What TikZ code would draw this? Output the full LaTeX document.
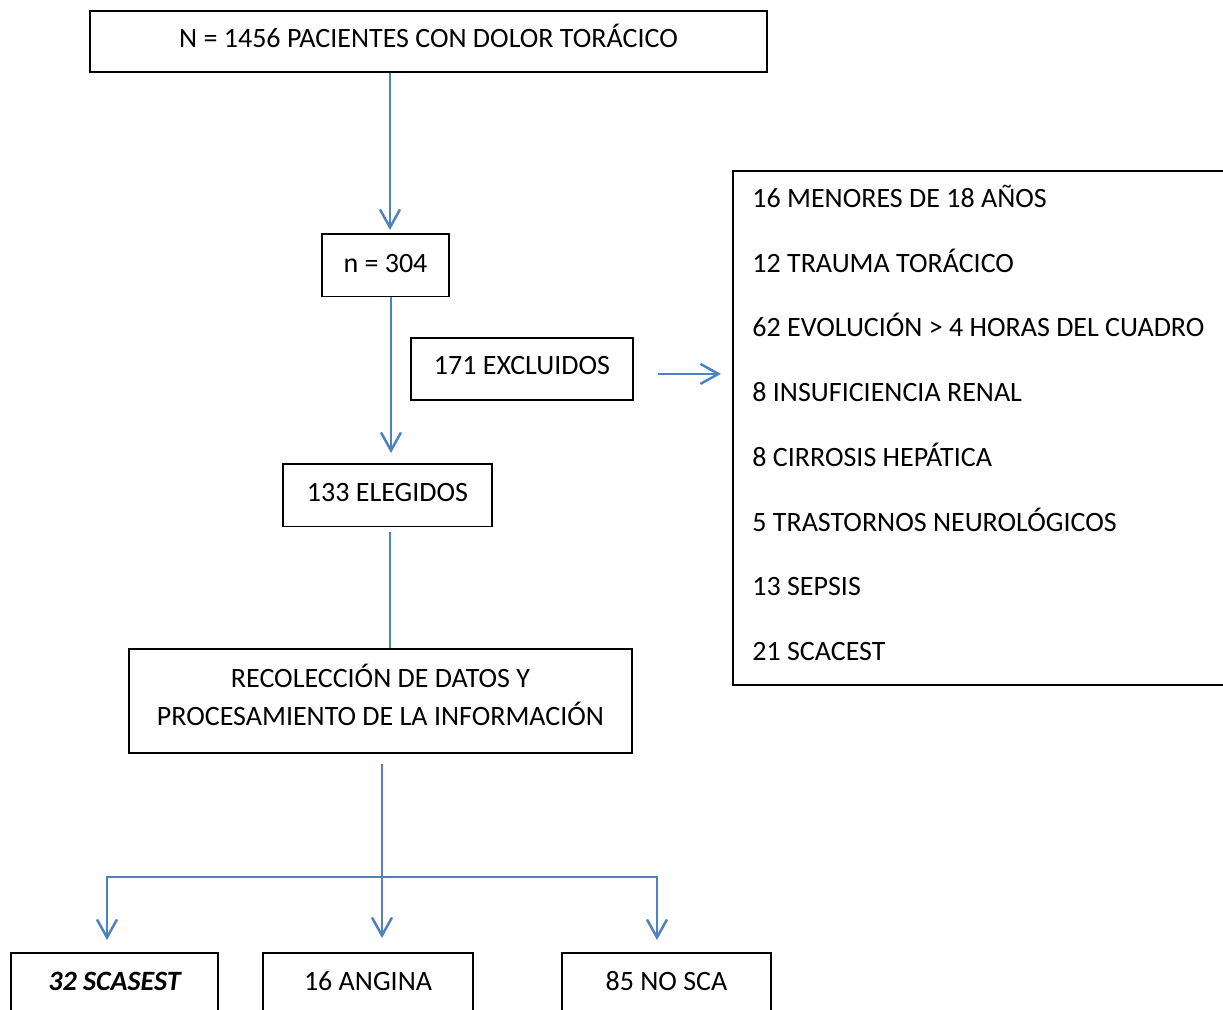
\documentclass[tikz,border=0pt]{standalone}
\usepackage{fontspec}
\setmainfont{Carlito}
\usepackage{xcolor}
\usetikzlibrary{arrows.meta, positioning}
\definecolor{linkblue}{RGB}{79,129,189}

\begin{document}
\begin{tikzpicture}[ % flujo de pacientes
    x=0.5pt, y=-0.5pt, % one unit = one pixel of the page
    box/.style={rectangle, draw, line width=0.9pt, inner xsep=0pt, inner ysep=0pt, anchor=north, text centered, font=\fontsize{14}{19}\selectfont},
    item/.style={anchor=base west, inner sep=0pt, font=\fontsize{14}{19}\selectfont},
    line/.style={draw, color=linkblue, line width=1.25pt},
    arrow/.style={line, -{Straight Barb[length=9pt, width=10pt]}}
    ]
    \useasboundingbox (0,0) rectangle (1223,1009);
    \clip (0,0) rectangle (1223,1009);

    % Main column
    \node [box, minimum width=338.5pt, text height=18.25pt, text depth=12.25pt] (total) at (428.5,10) {N = 1456 PACIENTES CON DOLOR TORÁCICO};
    \node [box, minimum width=63.5pt, text height=19.25pt, text depth=12pt] (n304) at (385.5,233) {n = 304};
    \node [box, minimum width=111pt, text height=18.5pt, text depth=12.5pt] (excl) at (522,337) {171 EXCLUIDOS};
    \node [box, minimum width=104.5pt, text height=18.75pt, text depth=12.5pt] (eleg) at (387.5,463) {133 ELEGIDOS};
    \node [box, align=center, minimum width=251.5pt, text height=38.25pt, text depth=13.75pt] (recol) at (380.5,648) {RECOLECCIÓN DE DATOS Y\\PROCESAMIENTO DE LA INFORMACIÓN};

    % Results
    \node [box, minimum width=103.5pt, text height=18.75pt, text depth=35pt, font=\fontsize{14}{19}\selectfont\bfseries\itshape] (scasest) at (114.5,952) {32 SCASEST};
    \node [box, minimum width=105pt, text height=18.75pt, text depth=35pt] (angina) at (368,952) {16 ANGINA};
    \node [box, minimum width=104.5pt, text height=18.75pt, text depth=35pt] (nosca) at (666.5,952) {85 NO SCA};

    % Exclusion causes
    \node [box, anchor=north west, minimum width=290pt, minimum height=257pt] (excllist) at (732,170) {};
    \foreach \cause [count=\i from 0] in {16 MENORES DE 18 AÑOS, 12 TRAUMA TORÁCICO, 62 EVOLUCIÓN > 4 HORAS DEL CUADRO, 8 INSUFICIENCIA RENAL, 8 CIRROSIS HEPÁTICA, 5 TRASTORNOS NEUROLÓGICOS, 13 SEPSIS, 21 SCACEST}
        \node [item] (cause\i) at (752,{207.5+64.7*\i}) {\cause};

    % Connectors
    \coordinate (drop1) at ([xshift=2.25pt]n304.north);
    \coordinate (drop2) at ([xshift=2.75pt]n304.south);
    \coordinate (drop3) at ([xshift=1.25pt]eleg.south);
    \coordinate (fork) at (382,877);
    \coordinate (forkL) at (107,877);
    \coordinate (forkR) at (657,877);
    \path [arrow, shorten >=1.5pt] (total.south -| drop1) -- (drop1);
    \path [arrow, shorten >=5pt] (drop2) -- (drop2 |- eleg.north);
    \path [arrow, shorten <=12pt, shorten >=5.5pt] ([yshift=-2.5pt]excl.east) -- ([yshift=-2.5pt]excl.east -| excllist.west);
    \path [line, shorten <=2.25pt] (drop3) -- (drop3 |- recol.north);
    \path [line, shorten <=5pt] (recol.south -| fork) -- (fork);
    \path [arrow, shorten >=6pt] (fork) -| (forkL |- scasest.north);
    \path [arrow, shorten >=7pt] (fork) -- (fork |- angina.north);
    \path [arrow, shorten >=6pt] (fork) -| (forkR |- nosca.north);

\end{tikzpicture}
\end{document}
